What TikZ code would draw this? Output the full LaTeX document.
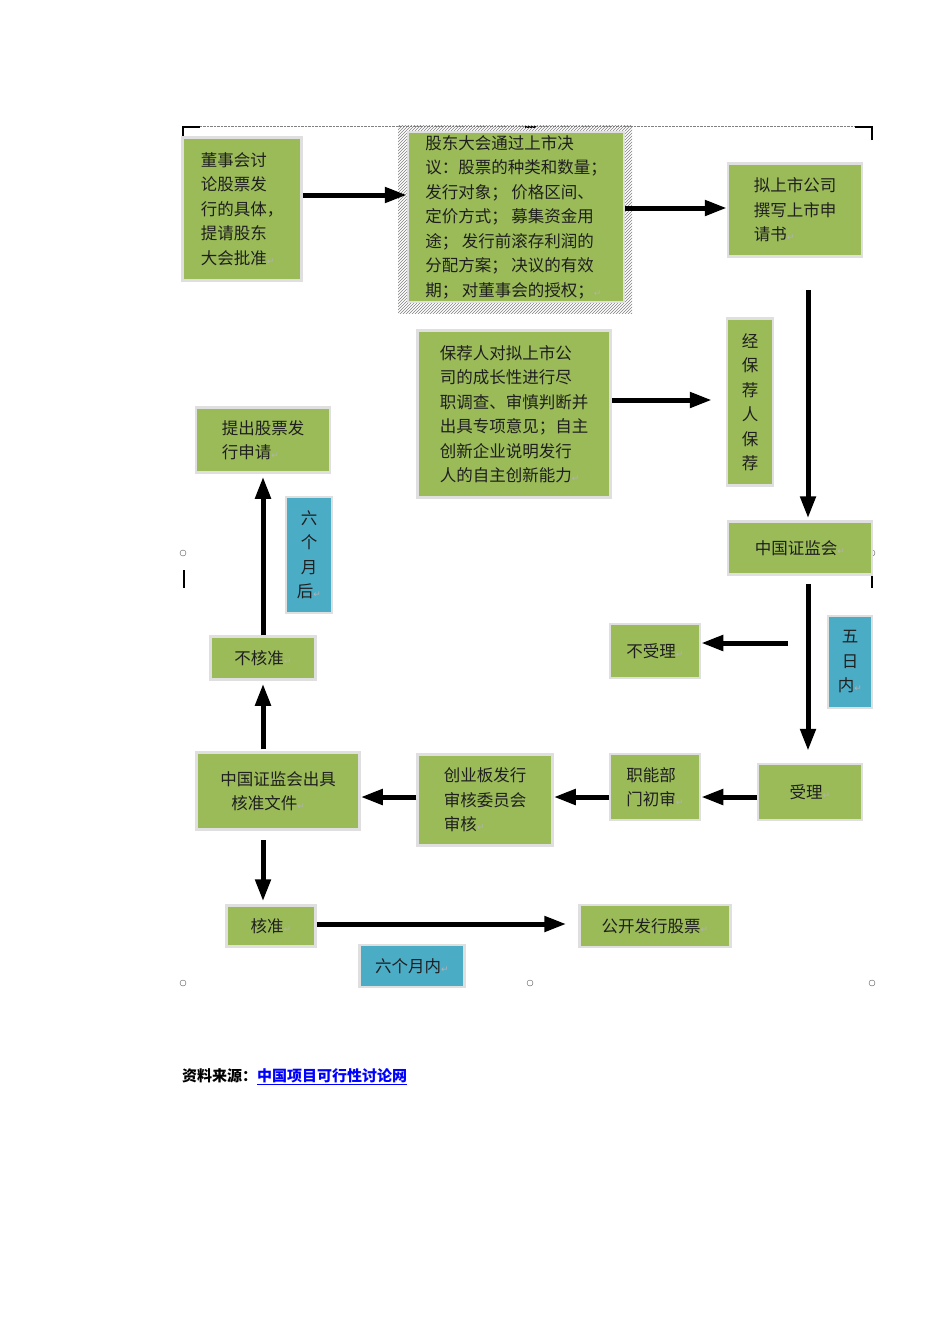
\documentclass[tikz,border=0pt]{standalone}
\usepackage{fontspec}
\setmainfont{Noto Sans CJK SC}
\newfontfamily\dejavu{DejaVu Sans}
\usetikzlibrary{arrows.meta,patterns}
\definecolor{gr}{HTML}{9BBB59}
\definecolor{bl}{HTML}{4BACC6}
\definecolor{tx}{HTML}{1F1F1F}
\newcommand{\parmk}{{\dejavu\fontsize{9}{9}\selectfont\textcolor{gray!60}{↵}}}
\tikzset{
 box/.style={fill=gr,draw=gray!25,line width=2.5pt,inner sep=0pt,align=left,text=tx,font=\fontsize{16.5}{24.5}\selectfont},
 bbox/.style={box,fill=bl},
 arr/.style={line width=5pt,-{Triangle[length=22pt,width=15pt]}}
}
\begin{document}
\begin{tikzpicture}[x=1pt,y=-1pt]
\useasboundingbox (0,0) rectangle (950,1344);
% frame marks
\draw[densely dotted,gray] (183,126) -- (872,126);
\draw[line width=2pt] (183,140) -- (183,127) -- (200,127);
\draw[line width=2pt] (872,140) -- (872,127) -- (855,127);
\draw[line width=2pt] (525,127) -- (536,127);
\draw[line width=2pt] (184,570) -- (184,588);
\draw[line width=2pt] (872,570) -- (872,588);
\foreach \p in {(183,553),(183,983),(530,983),(872,983),(872,553)} \draw[gray!70!black] \p circle (3);
% hatched big box
\fill[pattern=north east lines,pattern color=gray] (398,125) rectangle (632,313);
\node[box,minimum width=216,minimum height=170] (n2) at (516,217) {股东大会通过上市决\\议：股票的种类和数量；\\发行对象；\ 价格区间、\\定价方式；\ 募集资金用\\途；\ 发行前滚存利润的\\分配方案；\ 决议的有效\\期；\ 对董事会的授权；\parmk};
\node[box,minimum width=119,minimum height=143] (n1) at (242,209) {董事会讨\\论股票发\\行的具体，\\提请股东\\大会批准\parmk};
\node[box,minimum width=134,minimum height=93] (n3) at (795,210) {拟上市公司\\撰写上市申\\请书\parmk};
\node[box,minimum width=193,minimum height=167] (n4) at (514,414) {保荐人对拟上市公\\司的成长性进行尽\\职调查、审慎判断并\\出具专项意见；自主\\创新企业说明发行\\人的自主创新能力\parmk};
\node[box,minimum width=46,minimum height=167,align=center] (n5) at (750,402) {经\\保\\荐\\人\\保\\荐};
\node[box,minimum width=134,minimum height=65] (n6) at (263,440) {提出股票发\\行申请\parmk};
\node[bbox,minimum width=46,minimum height=116,align=center] (n7) at (309,555) {六\\个\\月\\后\parmk};
\node[box,minimum width=144,minimum height=53] (n8) at (800,548) {中国证监会\parmk};
\node[box,minimum width=105,minimum height=43] (n9) at (263,658) {不核准\parmk};
\node[box,minimum width=90,minimum height=54] (n10) at (655,651) {不受理\parmk};
\node[bbox,minimum width=44,minimum height=92,align=center] (n11) at (850,662) {五\\日\\内\parmk};
\node[box,minimum width=163,minimum height=77] (n12) at (278,791) {中国证监会出具\\\ \ \ 核准文件\parmk};
\node[box,minimum width=135,minimum height=91] (n13) at (485,800) {创业板发行\\审核委员会\\审核\parmk};
\node[box,minimum width=90,minimum height=66] (n14) at (655,787) {职能部\\门初审\parmk};
\node[box,minimum width=104,minimum height=56] (n15) at (810,792) {受理\parmk};
\node[box,minimum width=89,minimum height=41] (n16) at (271,926) {核准\parmk};
\node[box,minimum width=151,minimum height=42] (n17) at (655,926) {公开发行股票\parmk};
\node[bbox,minimum width=105,minimum height=42] (n18) at (412,966) {六个月内\parmk};
% helper coordinates
\coordinate (ya) at (0,195); \coordinate (yb) at (0,208);
\coordinate (xa) at (808,0); \coordinate (yc) at (0,400);
\coordinate (yd) at (0,797); \coordinate (ye) at (0,924);
\coordinate (xb) at (263,0);
\coordinate (c1) at (788,643);
\coordinate (c2) at (263,840);
% arrows
\draw[arr] (n1.east|-ya) -- (n2.west|-ya);
\draw[arr] (n2.east|-yb) -- (n3.west|-yb);
\draw[arr,shorten <=32pt,shorten >=2pt] (xa|-n3.south) -- (xa|-n8.north);
\draw[arr,shorten >=14pt] (n4.east|-yc) -- (n5.west|-yc);
\draw[arr,shorten <=8pt,shorten >=12pt] (xa|-n8.south) -- (xa|-n15.north);
\draw[arr] (c1) -- (n10.east|-c1);
\draw[arr] (n15.west|-yd) -- (n14.east|-yd);
\draw[arr] (n14.west|-yd) -- (n13.east|-yd);
\draw[arr] (n13.west|-yd) -- (n12.east|-yd);
\draw[arr,shorten <=2pt,shorten >=3pt] (n9.south|-n12.north) -- (n9.south);
\draw[arr,shorten >=3pt] (n9.north) -- (n9.north|-n6.south);
\draw[arr,shorten >=3pt] (c2) -- (xb|-n16.north);
\draw[arr,shorten >=12pt] (n16.east|-ye) -- (n17.west|-ye);
% footer
\node[anchor=west,inner sep=0pt,font=\fontsize{15}{15}\selectfont\bfseries] (f) at (182,1077) {资料来源：\textcolor{blue}{\underline{中国项目可行性讨论网}}};
\end{tikzpicture}
\end{document}
